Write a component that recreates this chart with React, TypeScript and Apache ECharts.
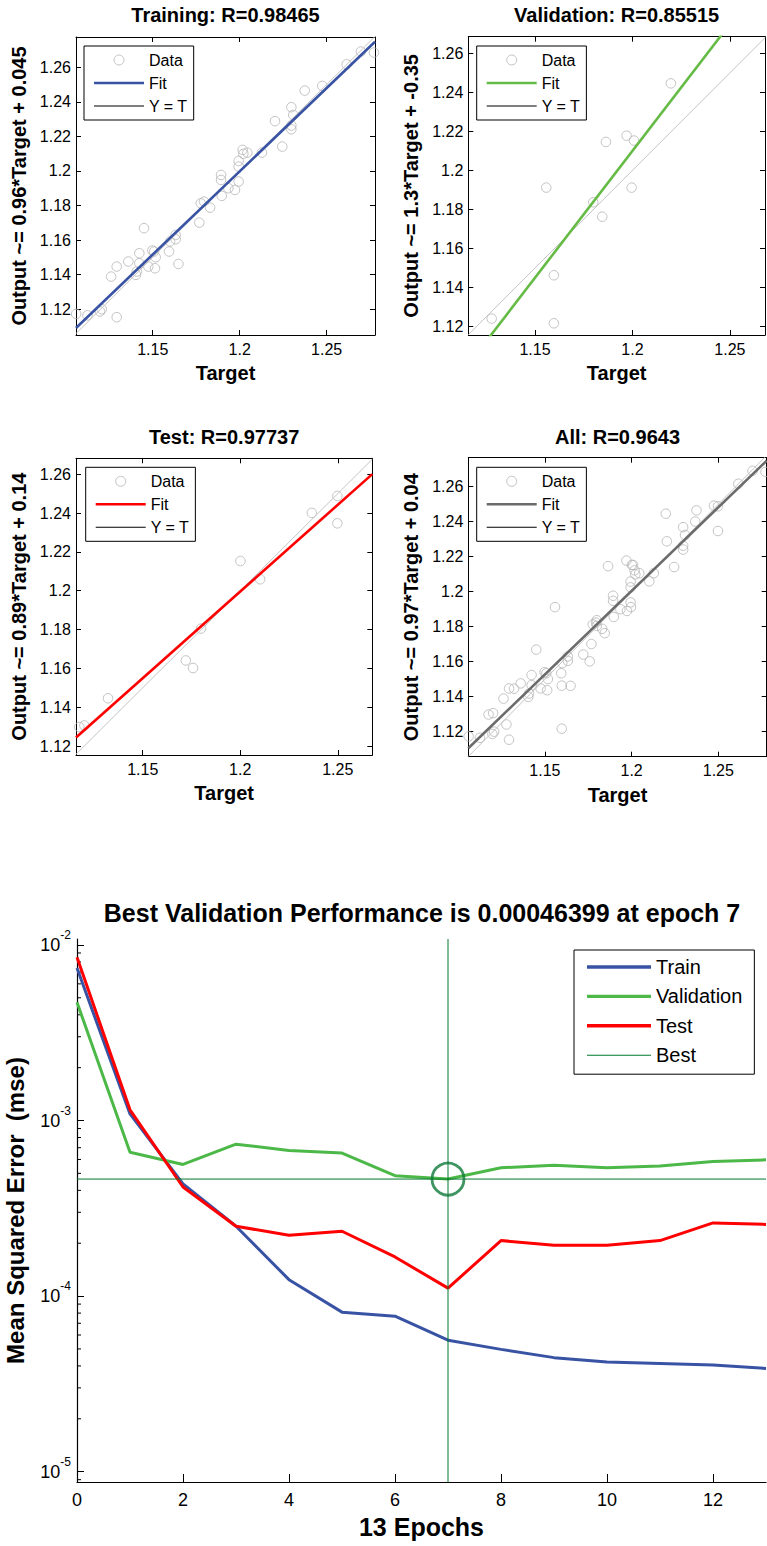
import React, { useEffect, useRef } from 'react';
import * as echarts from 'echarts';

const FONT = '"Liberation Sans", Arial, Helvetica, sans-serif';

// ---------- Regression data ----------
const trainTarget = [1.2772, 1.2697, 1.2615, 1.2475, 1.2374, 1.2297, 1.2308, 1.2297, 1.2297, 1.2203, 1.2245, 1.2128, 1.2017, 1.2044, 1.2021, 1.1994, 1.1994, 1.1994, 1.1973, 1.1893, 1.1893, 1.1897, 1.1935, 1.1795, 1.1776, 1.183, 1.1768, 1.1632, 1.1632, 1.16, 1.1594, 1.1648, 1.145, 1.1508, 1.1517, 1.1513, 1.1475, 1.1423, 1.1423, 1.1408, 1.1404, 1.136, 1.1293, 1.1261, 1.1207, 1.1197, 1.1293, 1.1125, 1.106, 1.1498];
const trainOutput = [1.2685, 1.2691, 1.2617, 1.2492, 1.2465, 1.2369, 1.2324, 1.2263, 1.2241, 1.2288, 1.2141, 1.2106, 1.2122, 1.2106, 1.2099, 1.2058, 1.2025, 1.1939, 1.189, 1.1977, 1.1948, 1.1856, 1.19, 1.1823, 1.1813, 1.1788, 1.1701, 1.163, 1.1605, 1.1592, 1.1534, 1.1462, 1.1669, 1.1534, 1.1501, 1.1437, 1.1447, 1.1524, 1.1466, 1.1418, 1.1399, 1.1476, 1.1447, 1.1389, 1.12, 1.1187, 1.1154, 1.1165, 1.1173, 1.154];

const valTarget = [1.2197, 1.197, 1.1864, 1.2008, 1.1558, 1.1996, 1.1799, 1.1845, 1.1597, 1.1278, 1.1597];
const valOutput = [1.2446, 1.2178, 1.2146, 1.2153, 1.1912, 1.1912, 1.1837, 1.1763, 1.1463, 1.1241, 1.1217];

const testTarget = [1.2498, 1.2498, 1.2367, 1.2001, 1.2102, 1.1799, 1.1721, 1.1758, 1.1322, 1.1175, 1.1201];
const testOutput = [1.2488, 1.2347, 1.2401, 1.2153, 1.2059, 1.1805, 1.1641, 1.1602, 1.1446, 1.1298, 1.1306];

const allTarget = [...trainTarget, ...valTarget, ...testTarget];
const allOutput = [...trainOutput, ...valOutput, ...testOutput];

const regXTicks = [1.15, 1.2, 1.25];
const regYTicks = [1.12, 1.14, 1.16, 1.18, 1.2, 1.22, 1.24, 1.26];

// ---------- Performance data ----------
const epochs = [0, 1, 2, 3, 4, 5, 6, 7, 8, 9, 10, 11, 12, 13];
const trainPerf = [7.38e-3, 1.09e-3, 4.36e-4, 2.5e-4, 1.24e-4, 8.1e-5, 7.68e-5, 5.61e-5, 4.97e-5, 4.46e-5, 4.21e-5, 4.13e-5, 4.05e-5, 3.87e-5];
const valPerf = [4.71e-3, 6.6e-4, 5.62e-4, 7.33e-4, 6.74e-4, 6.52e-4, 4.85e-4, 4.6399e-4, 5.38e-4, 5.57e-4, 5.38e-4, 5.5e-4, 5.85e-4, 5.97e-4];
const testPerf = [8.51e-3, 1.15e-3, 4.18e-4, 2.5e-4, 2.22e-4, 2.34e-4, 1.67e-4, 1.11e-4, 2.07e-4, 1.95e-4, 1.95e-4, 2.07e-4, 2.61e-4, 2.56e-4];
const bestEpoch = 7;
const bestPerf = 4.6399e-4;
const perfXMin = 0;
const perfXMax = 13;
const perfXTicks = [0, 2, 4, 6, 8, 10, 12];
const perfYTicks = [1e-5, 1e-4, 1e-3, 1e-2];
const perfYMin = 8.73e-6;
const perfYMax = 1.081e-2;
const minorTickValues: number[] = [];
for (let e = -6; e <= -2; e++) {
  for (let m = 2; m <= 9; m++) {
    const v = m * Math.pow(10, e);
    if (v > perfYMin && v < perfYMax) minorTickValues.push(v);
  }
}

const lineIcon = (w: number, h: number) => `path://M0,0H${w}V${h}H0Z`;

type RegCfg = {
  title: string;
  yName: string;
  target: number[];
  output: number[];
  slope: number;
  intercept: number;
  fitColor: string;
  xMin: number; xMax: number; yMin: number; yMax: number;
  grid: { left: number; top: number; width: number; height: number };
  legendLeft: number; legendTop: number;
  titleTop: number;
};

function regressionOption(c: RegCfg) {
  const pts = c.target.map((t, i) => [t, c.output[i]]);
  const fit = [[c.xMin, c.slope * c.xMin + c.intercept], [c.xMax, c.slope * c.xMax + c.intercept]];
  const ident = [[c.xMin, c.xMin], [c.xMax, c.xMax]];
  const axisLine = { show: true, onZero: false, lineStyle: { color: '#000', width: 1 } };
  const tickStyle = { color: '#000', width: 1 };
  const labelStyle = { fontSize: 16, color: '#000', fontFamily: FONT };
  const nameStyle = { fontSize: 20, fontWeight: 'bold', color: '#000', fontFamily: FONT };
  return {
    animation: false,
    backgroundColor: '#fff',
    title: {
      text: c.title,
      left: c.grid.left + c.grid.width / 2,
      textAlign: 'center',
      top: c.titleTop,
      padding: 0,
      textStyle: { fontSize: 20, fontWeight: 'bold', color: '#000', fontFamily: FONT },
    },
    grid: { ...c.grid, containLabel: false, outerBoundsMode: 'none' },
    legend: {
      orient: 'vertical',
      left: c.legendLeft,
      top: c.legendTop,
      padding: [6, 6, 6, 10],
      itemGap: 7,
      itemWidth: 50,
      itemHeight: 10,
      borderColor: '#000',
      borderWidth: 1,
      borderRadius: 0,
      backgroundColor: '#fff',
      selectedMode: false,
      textStyle: { fontSize: 16, color: '#000', fontFamily: FONT },
      data: [
        { name: 'Data', icon: 'circle', itemStyle: { color: 'transparent', borderColor: '#b4b4b4', borderWidth: 1 } },
        { name: 'Fit', icon: lineIcon(50, 2.6), itemStyle: { color: c.fitColor, borderWidth: 0 } },
        { name: 'Y = T', icon: lineIcon(50, 1), itemStyle: { color: '#000', borderWidth: 0 } },
      ],
    },
    xAxis: [
      {
        type: 'value', min: c.xMin, max: c.xMax, position: 'bottom',
        axisLine, splitLine: { show: false },
        axisTick: { inside: true, length: 5, customValues: regXTicks, lineStyle: tickStyle },
        axisLabel: { customValues: regXTicks, margin: 6, ...labelStyle },
        name: 'Target', nameLocation: 'middle', nameGap: 28, nameTextStyle: nameStyle,
      },
      {
        type: 'value', min: c.xMin, max: c.xMax, position: 'top',
        axisLine, splitLine: { show: false },
        axisTick: { inside: true, length: 5, customValues: regXTicks, lineStyle: tickStyle },
        axisLabel: { show: false, customValues: regXTicks },
      },
    ],
    yAxis: [
      {
        type: 'value', min: c.yMin, max: c.yMax, position: 'left',
        axisLine, splitLine: { show: false },
        axisTick: { inside: true, length: 5, customValues: regYTicks, lineStyle: tickStyle },
        axisLabel: { customValues: regYTicks, margin: 5, ...labelStyle },
        name: c.yName, nameLocation: 'middle', nameGap: 47, nameRotate: 90, nameTextStyle: nameStyle,
      },
      {
        type: 'value', min: c.yMin, max: c.yMax, position: 'right',
        axisLine, splitLine: { show: false },
        axisTick: { inside: true, length: 5, customValues: regYTicks, lineStyle: tickStyle },
        axisLabel: { show: false, customValues: regYTicks },
      },
    ],
    series: [
      {
        name: 'Data', type: 'scatter', data: pts, symbol: 'circle', symbolSize: 9.5,
        itemStyle: { color: 'transparent', borderColor: '#b4b4b4', borderWidth: 1 },
        xAxisIndex: 0, yAxisIndex: 0, z: 2,
      },
      {
        name: 'Y = T', type: 'line', data: ident, symbol: 'none', clip: true,
        lineStyle: { color: '#c4c4c4', width: 1 }, itemStyle: { color: '#c4c4c4' },
        xAxisIndex: 0, yAxisIndex: 0, z: 3,
      },
      {
        name: 'Fit', type: 'line', data: fit, symbol: 'none', clip: true,
        lineStyle: { color: c.fitColor, width: 2.6 }, itemStyle: { color: c.fitColor },
        xAxisIndex: 0, yAxisIndex: 0, z: 4,
      },
    ],
  };
}

function perfOption() {
  const axisLine = { show: true, onZero: false, lineStyle: { color: '#000', width: 1.2 } };
  const mk = (arr: number[]) => arr.map((v, i) => [epochs[i], v]);
  const bestColor = '#00782a';
  const colors = { Train: '#3953a4', Validation: '#4cb848', Test: '#ff0000' };
  return {
    animation: false,
    backgroundColor: '#fff',
    title: {
      text: 'Best Validation Performance is 0.00046399 at epoch 7',
      left: 422,
      textAlign: 'center',
      top: 30,
      padding: 0,
      textStyle: { fontSize: 25, fontWeight: 'bold', color: '#000', fontFamily: FONT },
    },
    grid: { left: 77, top: 69, right: 1, height: 543, containLabel: false, outerBoundsMode: 'none' },
    legend: {
      orient: 'vertical',
      left: 574,
      top: 80,
      padding: [7, 12, 9, 13],
      itemGap: 9.4,
      itemWidth: 64,
      itemHeight: 14,
      borderColor: '#000',
      borderWidth: 1,
      backgroundColor: '#fff',
      selectedMode: false,
      textStyle: { fontSize: 20, color: '#000', fontFamily: FONT },
      data: [
        { name: 'Train', icon: lineIcon(64, 3.4), itemStyle: { color: colors.Train, borderWidth: 0 } },
        { name: 'Validation', icon: lineIcon(64, 3.4), itemStyle: { color: colors.Validation, borderWidth: 0 } },
        { name: 'Test', icon: lineIcon(64, 3.4), itemStyle: { color: colors.Test, borderWidth: 0 } },
        { name: 'Best', icon: lineIcon(64, 1), itemStyle: { color: bestColor, borderWidth: 0 } },
      ],
    },
    xAxis: {
      type: 'value', min: perfXMin, max: perfXMax,
      axisLine, splitLine: { show: false },
      axisTick: { inside: true, length: 8, customValues: perfXTicks, lineStyle: { color: '#000' } },
      axisLabel: { customValues: perfXTicks, margin: 9, fontSize: 18, color: '#000', fontFamily: FONT },
      name: '13 Epochs', nameLocation: 'middle', nameGap: 32,
      nameTextStyle: { fontSize: 25, fontWeight: 'bold', color: '#000', fontFamily: FONT },
    },
    yAxis: {
      type: 'log', logBase: 10, min: perfYMin, max: perfYMax,
      axisLine, splitLine: { show: false }, minorTick: { show: false },
      axisTick: { inside: true, length: 7, customValues: perfYTicks, lineStyle: { color: '#000' } },
      axisLabel: {
        customValues: perfYTicks, margin: 6, color: '#000', fontFamily: FONT,
        formatter: (v: number) => `{b|10}{s|${Math.round(Math.log10(v))}}`,
        rich: {
          b: { fontSize: 18, color: '#000', fontFamily: FONT },
          s: { fontSize: 12, color: '#000', fontFamily: FONT, padding: [0, 0, 20, 0] },
        },
      },
      name: 'Mean Squared Error  (mse)', nameLocation: 'middle', nameGap: 50, nameRotate: 90,
      nameTextStyle: { fontSize: 24, fontWeight: 'bold', color: '#000', fontFamily: FONT },
    },
    series: [
      {
        type: 'custom', name: 'minor', silent: true, z: 1,
        data: minorTickValues.map((v) => [perfXMin, v]),
        renderItem: (params: any, api: any) => {
          const p = api.coord([api.value(0), api.value(1)]);
          return { type: 'line', shape: { x1: p[0], y1: p[1], x2: p[0] + 4, y2: p[1] }, style: { stroke: '#000', lineWidth: 1 } };
        },
      },
      { name: 'Train', type: 'line', data: mk(trainPerf), symbol: 'none', lineStyle: { color: colors.Train, width: 3 }, itemStyle: { color: colors.Train }, z: 3 },
      { name: 'Validation', type: 'line', data: mk(valPerf), symbol: 'none', lineStyle: { color: colors.Validation, width: 3 }, itemStyle: { color: colors.Validation }, z: 3 },
      { name: 'Test', type: 'line', data: mk(testPerf), symbol: 'none', lineStyle: { color: colors.Test, width: 3 }, itemStyle: { color: colors.Test }, z: 3 },
      {
        name: 'Best', type: 'line', data: [[perfXMin, bestPerf], [perfXMax, bestPerf]], symbol: 'none',
        lineStyle: { color: bestColor, width: 1 }, itemStyle: { color: bestColor }, z: 4,
      },
      {
        name: 'BestEpoch', type: 'line', data: [[bestEpoch, perfYMin], [bestEpoch, perfYMax]], symbol: 'none',
        lineStyle: { color: bestColor, width: 1 }, itemStyle: { color: bestColor }, z: 4,
      },
      {
        name: 'BestPoint', type: 'scatter', data: [[bestEpoch, bestPerf]], symbol: 'circle', symbolSize: 32,
        itemStyle: { color: 'transparent', borderColor: '#0f7a3a', borderWidth: 2.8 }, z: 5,
      },
    ],
  };
}

function Chart({ option, box }: { option: any; box: { left: number; top: number; width: number; height: number } }) {
  const ref = useRef<HTMLDivElement>(null);
  useEffect(() => {
    const chart = echarts.init(ref.current!, null, { renderer: 'svg' });
    chart.setOption(option);
    return () => chart.dispose();
  }, [option]);
  return <div ref={ref} style={{ position: 'absolute', left: box.left, top: box.top, width: box.width, height: box.height }} />;
}

const trainingOpt = regressionOption({
  title: 'Training: R=0.98465', yName: 'Output ~= 0.96*Target + 0.045',
  target: trainTarget, output: trainOutput, slope: 0.963, intercept: 0.0442, fitColor: '#3953a4',
  xMin: 1.1059, xMax: 1.2778, yMin: 1.1051, yMax: 1.2775,
  grid: { left: 76, top: 37, width: 299, height: 298 }, legendLeft: 84, legendTop: 46, titleTop: 5,
});
const validationOpt = regressionOption({
  title: 'Validation: R=0.85515', yName: 'Output ~= 1.3*Target + -0.35',
  target: valTarget, output: valOutput, slope: 1.3, intercept: -0.35, fitColor: '#65bb45',
  xMin: 1.1158, xMax: 1.268, yMin: 1.1157, yMax: 1.2685,
  grid: { left: 84.3, top: 36.7, width: 296.7, height: 298.3 }, legendLeft: 92.7, legendTop: 46, titleTop: 5,
});
const testOpt = regressionOption({
  title: 'Test: R=0.97737', yName: 'Output ~= 0.89*Target + 0.14',
  target: testTarget, output: testOutput, slope: 0.893, intercept: 0.128, fitColor: '#ff0000',
  xMin: 1.1158, xMax: 1.2677, yMin: 1.1154, yMax: 1.2682,
  grid: { left: 76, top: 48.3, width: 296.3, height: 296.7 }, legendLeft: 85.7, legendTop: 57.3, titleTop: 17,
});
const allOpt = regressionOption({
  title: 'All: R=0.9643', yName: 'Output ~= 0.97*Target + 0.04',
  target: allTarget, output: allOutput, slope: 0.955, intercept: 0.0545, fitColor: '#6b6b6b',
  xMin: 1.1058, xMax: 1.2779, yMin: 1.1057, yMax: 1.2766,
  grid: { left: 84.3, top: 47.7, width: 298.4, height: 299 }, legendLeft: 92.7, legendTop: 57.3, titleTop: 17,
});
const perfOpt = perfOption();

export default function App() {
  return (
    <div style={{ position: 'absolute', left: 0, top: 0, width: 767, height: 1546, background: '#fff', overflow: 'hidden' }}>
      <Chart option={trainingOpt} box={{ left: 0, top: 0, width: 384, height: 410 }} />
      <Chart option={validationOpt} box={{ left: 384, top: 0, width: 383, height: 410 }} />
      <Chart option={testOpt} box={{ left: 0, top: 410, width: 384, height: 420 }} />
      <Chart option={allOpt} box={{ left: 384, top: 410, width: 383, height: 420 }} />
      <Chart option={perfOpt} box={{ left: 0, top: 870, width: 767, height: 676 }} />
    </div>
  );
}
